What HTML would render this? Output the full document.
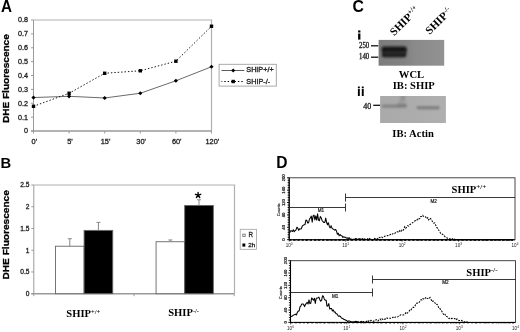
<!DOCTYPE html>
<html><head><meta charset="utf-8"><style>
html,body{margin:0;padding:0;background:#fff;width:520px;height:332px;overflow:hidden;}
svg{display:block;font-family:"Liberation Sans",sans-serif;filter:grayscale(1);}
</style></head><body>
<svg width="520" height="332" viewBox="0 0 520 332"><defs><filter id="bl" x="-20%" y="-50%" width="140%" height="200%"><feGaussianBlur stdDeviation="0.85"/></filter><filter id="bl2" x="-20%" y="-80%" width="140%" height="260%"><feGaussianBlur stdDeviation="1.1"/></filter><filter id="bl3" x="-50%" y="-50%" width="200%" height="200%"><feGaussianBlur stdDeviation="1.6"/></filter><linearGradient id="g1" x1="0" x2="1" y1="0" y2="0"><stop offset="0" stop-color="#7c7c7c"/><stop offset="0.4" stop-color="#828282"/><stop offset="0.55" stop-color="#8a8a8a"/><stop offset="1" stop-color="#929292"/></linearGradient><linearGradient id="g2" x1="0" x2="1" y1="0" y2="0"><stop offset="0" stop-color="#a9a9a9"/><stop offset="1" stop-color="#afafaf"/></linearGradient></defs>
<text x="1.1" y="12.0" font-family="Liberation Sans" font-size="15.6" font-weight="bold" font-style="normal" text-anchor="start" fill="#000" textLength="11.0" lengthAdjust="spacingAndGlyphs" >A</text>
<path d="M33.5,20.0H211.5V131.0" fill="none" stroke="#b0b0b0" stroke-width="1.2"/>
<path d="M33.5,20.0V131.0" fill="none" stroke="#9a9a9a" stroke-width="1"/>
<path d="M31.0,131.0H211.5" fill="none" stroke="#9a9a9a" stroke-width="1.4"/>
<line x1="31.0" y1="131.0" x2="33.5" y2="131.0" stroke="#9a9a9a" stroke-width="1"/>
<text x="28.0" y="133.4" font-family="Liberation Sans" font-size="7.2" font-weight="normal" font-style="normal" text-anchor="end" fill="#222"  stroke="#222" stroke-width="0.3">0</text>
<line x1="31.0" y1="117.125" x2="33.5" y2="117.125" stroke="#9a9a9a" stroke-width="1"/>
<text x="28.0" y="119.525" font-family="Liberation Sans" font-size="7.2" font-weight="normal" font-style="normal" text-anchor="end" fill="#222"  stroke="#222" stroke-width="0.3">0.1</text>
<line x1="31.0" y1="103.25" x2="33.5" y2="103.25" stroke="#9a9a9a" stroke-width="1"/>
<text x="28.0" y="105.65" font-family="Liberation Sans" font-size="7.2" font-weight="normal" font-style="normal" text-anchor="end" fill="#222"  stroke="#222" stroke-width="0.3">0.2</text>
<line x1="31.0" y1="89.375" x2="33.5" y2="89.375" stroke="#9a9a9a" stroke-width="1"/>
<text x="28.0" y="91.775" font-family="Liberation Sans" font-size="7.2" font-weight="normal" font-style="normal" text-anchor="end" fill="#222"  stroke="#222" stroke-width="0.3">0.3</text>
<line x1="31.0" y1="75.5" x2="33.5" y2="75.5" stroke="#9a9a9a" stroke-width="1"/>
<text x="28.0" y="77.9" font-family="Liberation Sans" font-size="7.2" font-weight="normal" font-style="normal" text-anchor="end" fill="#222"  stroke="#222" stroke-width="0.3">0.4</text>
<line x1="31.0" y1="61.625" x2="33.5" y2="61.625" stroke="#9a9a9a" stroke-width="1"/>
<text x="28.0" y="64.025" font-family="Liberation Sans" font-size="7.2" font-weight="normal" font-style="normal" text-anchor="end" fill="#222"  stroke="#222" stroke-width="0.3">0.5</text>
<line x1="31.0" y1="47.750000000000014" x2="33.5" y2="47.750000000000014" stroke="#9a9a9a" stroke-width="1"/>
<text x="28.0" y="50.15000000000001" font-family="Liberation Sans" font-size="7.2" font-weight="normal" font-style="normal" text-anchor="end" fill="#222"  stroke="#222" stroke-width="0.3">0.6</text>
<line x1="31.0" y1="33.875000000000014" x2="33.5" y2="33.875000000000014" stroke="#9a9a9a" stroke-width="1"/>
<text x="28.0" y="36.27500000000001" font-family="Liberation Sans" font-size="7.2" font-weight="normal" font-style="normal" text-anchor="end" fill="#222"  stroke="#222" stroke-width="0.3">0.7</text>
<line x1="31.0" y1="20.0" x2="33.5" y2="20.0" stroke="#9a9a9a" stroke-width="1"/>
<text x="28.0" y="22.4" font-family="Liberation Sans" font-size="7.2" font-weight="normal" font-style="normal" text-anchor="end" fill="#222"  stroke="#222" stroke-width="0.3">0.8</text>
<line x1="33.5" y1="131.0" x2="33.5" y2="133.5" stroke="#9a9a9a" stroke-width="1"/>
<text x="34.3" y="143.6" font-family="Liberation Sans" font-size="7.4" font-weight="normal" font-style="normal" text-anchor="middle" fill="#222"  stroke="#222" stroke-width="0.3">0'</text>
<line x1="69.1" y1="131.0" x2="69.1" y2="133.5" stroke="#9a9a9a" stroke-width="1"/>
<text x="69.89999999999999" y="143.6" font-family="Liberation Sans" font-size="7.4" font-weight="normal" font-style="normal" text-anchor="middle" fill="#222"  stroke="#222" stroke-width="0.3">5'</text>
<line x1="104.7" y1="131.0" x2="104.7" y2="133.5" stroke="#9a9a9a" stroke-width="1"/>
<text x="105.5" y="143.6" font-family="Liberation Sans" font-size="7.4" font-weight="normal" font-style="normal" text-anchor="middle" fill="#222"  stroke="#222" stroke-width="0.3">15'</text>
<line x1="140.3" y1="131.0" x2="140.3" y2="133.5" stroke="#9a9a9a" stroke-width="1"/>
<text x="141.10000000000002" y="143.6" font-family="Liberation Sans" font-size="7.4" font-weight="normal" font-style="normal" text-anchor="middle" fill="#222"  stroke="#222" stroke-width="0.3">30'</text>
<line x1="175.9" y1="131.0" x2="175.9" y2="133.5" stroke="#9a9a9a" stroke-width="1"/>
<text x="176.70000000000002" y="143.6" font-family="Liberation Sans" font-size="7.4" font-weight="normal" font-style="normal" text-anchor="middle" fill="#222"  stroke="#222" stroke-width="0.3">60'</text>
<line x1="211.5" y1="131.0" x2="211.5" y2="133.5" stroke="#9a9a9a" stroke-width="1"/>
<text x="212.3" y="143.6" font-family="Liberation Sans" font-size="7.4" font-weight="normal" font-style="normal" text-anchor="middle" fill="#222"  stroke="#222" stroke-width="0.3">120'</text>
<polyline points="33.50,97.56 69.10,96.31 104.70,97.98 140.30,93.26 175.90,80.77 211.50,66.76" fill="none" stroke="#444" stroke-width="0.8"/>
<polyline points="33.50,106.30 69.10,93.26 104.70,73.28 140.30,70.78 175.90,61.21 211.50,26.24" fill="none" stroke="#111" stroke-width="1" stroke-dasharray="1.4 2.0"/>
<path d="M33.5,95.46125L35.6,97.56125L33.5,99.66125L31.4,97.56125Z" fill="#000"/>
<path d="M69.1,94.2125L71.19999999999999,96.3125L69.1,98.4125L67.0,96.3125Z" fill="#000"/>
<path d="M104.7,95.8775L106.8,97.97749999999999L104.7,100.07749999999999L102.60000000000001,97.97749999999999Z" fill="#000"/>
<path d="M140.3,91.16L142.4,93.25999999999999L140.3,95.35999999999999L138.20000000000002,93.25999999999999Z" fill="#000"/>
<path d="M175.9,78.67250000000001L178.0,80.77250000000001L175.9,82.8725L173.8,80.77250000000001Z" fill="#000"/>
<path d="M211.5,64.65875000000001L213.6,66.75875L211.5,68.85875L209.4,66.75875Z" fill="#000"/>
<rect x="31.8" y="104.6025" width="3.4" height="3.4" fill="#000"/>
<rect x="67.39999999999999" y="91.55999999999999" width="3.4" height="3.4" fill="#000"/>
<rect x="103.0" y="71.58" width="3.4" height="3.4" fill="#000"/>
<rect x="138.60000000000002" y="69.0825" width="3.4" height="3.4" fill="#000"/>
<rect x="174.20000000000002" y="59.508750000000006" width="3.4" height="3.4" fill="#000"/>
<rect x="209.8" y="24.543750000000006" width="3.4" height="3.4" fill="#000"/>
<text x="0" y="0" font-family="Liberation Sans" font-size="9.6" font-weight="bold" font-style="normal" text-anchor="middle" fill="#000" textLength="88.9" lengthAdjust="spacingAndGlyphs" stroke="#000" stroke-width="0.3" transform="translate(9.0,78.65) rotate(-90)">DHE Fluorescence</text>
<rect x="219.1" y="64.3" width="57.2" height="21.8" fill="#fff" stroke="#a0a0a0" stroke-width="0.9"/>
<line x1="221.5" y1="70.5" x2="244.3" y2="70.5" stroke="#333" stroke-width="0.8"/>
<path d="M233.2,68.4L235.3,70.5L233.2,72.6L231.1,70.5Z" fill="#000"/>
<line x1="221.5" y1="81.5" x2="244.3" y2="81.5" stroke="#000" stroke-width="1" stroke-dasharray="1.4 2.0" stroke-dashoffset="0.6"/>
<rect x="231.5" y="79.8" width="3.4" height="3.4" fill="#000"/>
<text x="246.3" y="72.3" font-family="Liberation Sans" font-size="6.8" font-weight="normal" font-style="normal" text-anchor="start" fill="#222" textLength="27.4" lengthAdjust="spacingAndGlyphs"  stroke="#222" stroke-width="0.3">SHIP+/+</text>
<text x="246.3" y="83.5" font-family="Liberation Sans" font-size="6.8" font-weight="normal" font-style="normal" text-anchor="start" fill="#222" textLength="23.8" lengthAdjust="spacingAndGlyphs"  stroke="#222" stroke-width="0.3">SHIP-/-</text>
<text x="0.4" y="167.5" font-family="Liberation Sans" font-size="14.8" font-weight="bold" font-style="normal" text-anchor="start" fill="#000" >B</text>
<path d="M33.8,185.0H234.5V293.7" fill="none" stroke="#b0b0b0" stroke-width="1.2"/>
<path d="M33.8,185.0V293.7" fill="none" stroke="#9a9a9a" stroke-width="1"/>
<path d="M31.299999999999997,293.7H234.2" fill="none" stroke="#9a9a9a" stroke-width="1.4"/>
<line x1="31.299999999999997" y1="293.7" x2="33.8" y2="293.7" stroke="#9a9a9a" stroke-width="1"/>
<text x="29.4" y="296.0" font-family="Liberation Sans" font-size="6.6" font-weight="normal" font-style="normal" text-anchor="end" fill="#222"  stroke="#222" stroke-width="0.3">0</text>
<line x1="31.299999999999997" y1="271.96" x2="33.8" y2="271.96" stroke="#9a9a9a" stroke-width="1"/>
<text x="29.4" y="274.26" font-family="Liberation Sans" font-size="6.6" font-weight="normal" font-style="normal" text-anchor="end" fill="#222"  stroke="#222" stroke-width="0.3">0.5</text>
<line x1="31.299999999999997" y1="250.22" x2="33.8" y2="250.22" stroke="#9a9a9a" stroke-width="1"/>
<text x="29.4" y="252.52" font-family="Liberation Sans" font-size="6.6" font-weight="normal" font-style="normal" text-anchor="end" fill="#222"  stroke="#222" stroke-width="0.3">1</text>
<line x1="31.299999999999997" y1="228.48000000000002" x2="33.8" y2="228.48000000000002" stroke="#9a9a9a" stroke-width="1"/>
<text x="29.4" y="230.78000000000003" font-family="Liberation Sans" font-size="6.6" font-weight="normal" font-style="normal" text-anchor="end" fill="#222"  stroke="#222" stroke-width="0.3">1.5</text>
<line x1="31.299999999999997" y1="206.74" x2="33.8" y2="206.74" stroke="#9a9a9a" stroke-width="1"/>
<text x="29.4" y="209.04000000000002" font-family="Liberation Sans" font-size="6.6" font-weight="normal" font-style="normal" text-anchor="end" fill="#222"  stroke="#222" stroke-width="0.3">2</text>
<line x1="31.299999999999997" y1="185.0" x2="33.8" y2="185.0" stroke="#9a9a9a" stroke-width="1"/>
<text x="29.4" y="187.3" font-family="Liberation Sans" font-size="6.6" font-weight="normal" font-style="normal" text-anchor="end" fill="#222"  stroke="#222" stroke-width="0.3">2.5</text>
<line x1="33.8" y1="293.7" x2="33.8" y2="296.2" stroke="#9a9a9a" stroke-width="1"/>
<line x1="134.0" y1="293.7" x2="134.0" y2="296.2" stroke="#9a9a9a" stroke-width="1"/>
<line x1="234.2" y1="293.7" x2="234.2" y2="296.2" stroke="#9a9a9a" stroke-width="1"/>
<rect x="55.47" y="246.22" width="28.63" height="47.48" fill="#fff" stroke="#666" stroke-width="0.9"/>
<line x1="69.79" y1="246.22" x2="69.79" y2="238.74" stroke="#888" stroke-width="1"/>
<line x1="67.79" y1="238.74" x2="71.79" y2="238.74" stroke="#888" stroke-width="1"/>
<rect x="84.10" y="230.39" width="28.63" height="63.31" fill="#000" stroke="#666" stroke-width="0.9"/>
<line x1="98.41" y1="230.39" x2="98.41" y2="222.39" stroke="#888" stroke-width="1"/>
<line x1="96.41" y1="222.39" x2="100.41" y2="222.39" stroke="#888" stroke-width="1"/>
<rect x="156.07" y="241.74" width="28.63" height="51.96" fill="#fff" stroke="#666" stroke-width="0.9"/>
<line x1="170.39" y1="241.74" x2="170.39" y2="239.96" stroke="#888" stroke-width="1"/>
<line x1="168.39" y1="239.96" x2="172.39" y2="239.96" stroke="#888" stroke-width="1"/>
<rect x="184.70" y="205.44" width="28.63" height="88.26" fill="#000" stroke="#666" stroke-width="0.9"/>
<line x1="199.01" y1="205.44" x2="199.01" y2="199.78" stroke="#888" stroke-width="1"/>
<line x1="197.01" y1="199.78" x2="201.01" y2="199.78" stroke="#888" stroke-width="1"/>
<text x="0" y="0" font-family="Liberation Sans" font-size="9.4" font-weight="bold" font-style="normal" text-anchor="middle" fill="#000" textLength="89.3" lengthAdjust="spacingAndGlyphs" stroke="#000" stroke-width="0.3" transform="translate(8.7,234.85) rotate(-90)">DHE Fluorescence</text>
<path d="M198.1,195.2L198.10,192.40M198.1,195.2L200.76,194.33M198.1,195.2L199.75,197.47M198.1,195.2L196.45,197.47M198.1,195.2L195.44,194.33" stroke="#000" stroke-width="1.4" stroke-linecap="round" fill="none"/>
<rect x="240.2" y="229.3" width="16.3" height="20" fill="#fff" stroke="#a0a0a0" stroke-width="0.8"/>
<rect x="242.8" y="234.1" width="2.4" height="2.4" fill="#fff" stroke="#666" stroke-width="0.8"/>
<rect x="242.4" y="243.5" width="2.9" height="3.1" fill="#000"/>
<text x="248.4" y="237.1" font-family="Liberation Sans" font-size="6.8" font-weight="normal" font-style="normal" text-anchor="start" fill="#222" textLength="4.5" lengthAdjust="spacingAndGlyphs"  stroke="#222" stroke-width="0.3">R</text>
<text x="248.2" y="246.8" font-family="Liberation Sans" font-size="6.0" font-weight="normal" font-style="normal" text-anchor="start" fill="#222" textLength="7" lengthAdjust="spacingAndGlyphs"  stroke="#222" stroke-width="0.3">2h</text>
<text x="66.3" y="317.4" font-family="Liberation Serif" font-size="10.6" font-weight="bold" fill="#000">SHIP<tspan font-size="6.4" dy="-3.9">+/+</tspan></text>
<text x="168.2" y="316.4" font-family="Liberation Serif" font-size="10.6" font-weight="bold" fill="#000">SHIP<tspan font-size="6.4" dy="-3.9">-/-</tspan></text>
<text x="352.4" y="12.0" font-family="Liberation Sans" font-size="15.8" font-weight="bold" font-style="normal" text-anchor="start" fill="#000" >C</text>
<rect x="358.1" y="30.4" width="2.3" height="2.1" fill="#000"/><rect x="358.1" y="33.5" width="2.3" height="6.1" fill="#000"/>
<text font-family="Liberation Serif" font-size="11.2" font-weight="bold" fill="#000" transform="translate(394.3,36.2) rotate(-45)">SHIP<tspan font-size="7" dy="-4">+/+</tspan></text>
<text font-family="Liberation Serif" font-size="11.2" font-weight="bold" fill="#000" transform="translate(429.8,35.0) rotate(-45)">SHIP<tspan font-size="7" dy="-4">-/-</tspan></text>
<rect x="378.6" y="39.9" width="65.6" height="25.8" fill="url(#g1)"/>
<g filter="url(#bl)"><rect x="382" y="47.5" width="24.5" height="9" rx="3" fill="#2a2a2a"/><rect x="381.5" y="46.4" width="25.3" height="6.2" rx="2.8" fill="#141414"/><rect x="381.8" y="52.5" width="24.4" height="4.8" rx="2.4" fill="#1a1a1a"/><rect x="384" y="52.1" width="21" height="0.8" fill="#444"/></g>
<text x="369.2" y="47.7" font-family="Liberation Serif" font-size="7.2" font-weight="normal" font-style="normal" text-anchor="end" fill="#222" textLength="10.2" lengthAdjust="spacingAndGlyphs"  stroke="#222" stroke-width="0.3">250</text>
<line x1="371" y1="45.8" x2="378.3" y2="45.8" stroke="#111" stroke-width="1.3"/>
<text x="369.2" y="59.4" font-family="Liberation Serif" font-size="7.2" font-weight="normal" font-style="normal" text-anchor="end" fill="#222" textLength="10.2" lengthAdjust="spacingAndGlyphs"  stroke="#222" stroke-width="0.3">140</text>
<line x1="371" y1="57.2" x2="378.3" y2="57.2" stroke="#111" stroke-width="1.3"/>
<text x="411.5" y="77.5" font-family="Liberation Serif" font-size="10.6" font-weight="bold" font-style="normal" text-anchor="middle" fill="#000" >WCL</text>
<text x="413.8" y="89.1" font-family="Liberation Serif" font-size="10.6" font-weight="bold" font-style="normal" text-anchor="middle" fill="#000" >IB: SHIP</text>
<rect x="357.9" y="86.5" width="1.9" height="1.7" fill="#000"/><rect x="357.9" y="88.9" width="1.9" height="7.1" fill="#000"/><rect x="361.8" y="86.5" width="1.9" height="1.7" fill="#000"/><rect x="361.8" y="88.9" width="1.9" height="7.1" fill="#000"/>
<rect x="380.1" y="96" width="65.8" height="27" fill="url(#g2)"/>
<clipPath id="cb2"><rect x="380.1" y="96" width="65.8" height="27"/></clipPath>
<g clip-path="url(#cb2)"><g filter="url(#bl2)"><rect x="381.8" y="104.4" width="25.2" height="3.3" rx="1.6" fill="#848484"/><rect x="397" y="103.6" width="9.5" height="3.2" rx="1.5" fill="#7e7e7e"/><rect x="416.6" y="106.3" width="23" height="3" rx="1.4" fill="#7c7c7c"/></g><g filter="url(#bl3)"><ellipse cx="402.5" cy="97.5" rx="2.2" ry="2.5" fill="#8a8a8a"/><path d="M399,104 L405,99" stroke="#909090" stroke-width="2"/></g></g>
<text x="371.3" y="109.1" font-family="Liberation Serif" font-size="7.6" font-weight="normal" font-style="normal" text-anchor="end" fill="#222" textLength="8" lengthAdjust="spacingAndGlyphs"  stroke="#222" stroke-width="0.3">40</text>
<line x1="373.2" y1="105.3" x2="380.1" y2="105.3" stroke="#111" stroke-width="1.3"/>
<text x="413.1" y="137.3" font-family="Liberation Serif" font-size="10.6" font-weight="bold" font-style="normal" text-anchor="middle" fill="#000" >IB: Actin</text>
<text x="276.3" y="168.0" font-family="Liberation Sans" font-size="15.6" font-weight="bold" font-style="normal" text-anchor="start" fill="#000" >D</text>
<rect x="289.2" y="177.8" width="225.8" height="61.89999999999998" fill="none" stroke="#333" stroke-width="0.9"/><line x1="289.2" y1="177.8" x2="289.2" y2="239.7" stroke="#000" stroke-width="1.1"/><line x1="289.2" y1="239.7" x2="515" y2="239.7" stroke="#333" stroke-width="1.0"/><line x1="289.2" y1="240.0" x2="515" y2="240.0" stroke="#000" stroke-width="1.3" stroke-dasharray="2.3 1.8"/><line x1="287.0" y1="239.70" x2="289.2" y2="239.70" stroke="#000" stroke-width="0.9"/><line x1="287.59999999999997" y1="237.22" x2="289.2" y2="237.22" stroke="#000" stroke-width="0.9"/><line x1="287.59999999999997" y1="234.75" x2="289.2" y2="234.75" stroke="#000" stroke-width="0.9"/><line x1="287.59999999999997" y1="232.27" x2="289.2" y2="232.27" stroke="#000" stroke-width="0.9"/><line x1="287.59999999999997" y1="229.80" x2="289.2" y2="229.80" stroke="#000" stroke-width="0.9"/><line x1="287.0" y1="227.32" x2="289.2" y2="227.32" stroke="#000" stroke-width="0.9"/><line x1="287.59999999999997" y1="224.84" x2="289.2" y2="224.84" stroke="#000" stroke-width="0.9"/><line x1="287.59999999999997" y1="222.37" x2="289.2" y2="222.37" stroke="#000" stroke-width="0.9"/><line x1="287.59999999999997" y1="219.89" x2="289.2" y2="219.89" stroke="#000" stroke-width="0.9"/><line x1="287.59999999999997" y1="217.42" x2="289.2" y2="217.42" stroke="#000" stroke-width="0.9"/><line x1="287.0" y1="214.94" x2="289.2" y2="214.94" stroke="#000" stroke-width="0.9"/><line x1="287.59999999999997" y1="212.46" x2="289.2" y2="212.46" stroke="#000" stroke-width="0.9"/><line x1="287.59999999999997" y1="209.99" x2="289.2" y2="209.99" stroke="#000" stroke-width="0.9"/><line x1="287.59999999999997" y1="207.51" x2="289.2" y2="207.51" stroke="#000" stroke-width="0.9"/><line x1="287.59999999999997" y1="205.04" x2="289.2" y2="205.04" stroke="#000" stroke-width="0.9"/><line x1="287.0" y1="202.56" x2="289.2" y2="202.56" stroke="#000" stroke-width="0.9"/><line x1="287.59999999999997" y1="200.08" x2="289.2" y2="200.08" stroke="#000" stroke-width="0.9"/><line x1="287.59999999999997" y1="197.61" x2="289.2" y2="197.61" stroke="#000" stroke-width="0.9"/><line x1="287.59999999999997" y1="195.13" x2="289.2" y2="195.13" stroke="#000" stroke-width="0.9"/><line x1="287.59999999999997" y1="192.66" x2="289.2" y2="192.66" stroke="#000" stroke-width="0.9"/><line x1="287.0" y1="190.18" x2="289.2" y2="190.18" stroke="#000" stroke-width="0.9"/><line x1="287.59999999999997" y1="187.70" x2="289.2" y2="187.70" stroke="#000" stroke-width="0.9"/><line x1="287.59999999999997" y1="185.23" x2="289.2" y2="185.23" stroke="#000" stroke-width="0.9"/><line x1="287.59999999999997" y1="182.75" x2="289.2" y2="182.75" stroke="#000" stroke-width="0.9"/><line x1="287.59999999999997" y1="180.28" x2="289.2" y2="180.28" stroke="#000" stroke-width="0.9"/><line x1="287.0" y1="177.80" x2="289.2" y2="177.80" stroke="#000" stroke-width="0.9"/><line x1="289.20" y1="239.7" x2="289.20" y2="241.7" stroke="#000" stroke-width="0.6"/><line x1="306.19" y1="239.7" x2="306.19" y2="240.89999999999998" stroke="#000" stroke-width="0.6"/><line x1="316.13" y1="239.7" x2="316.13" y2="240.89999999999998" stroke="#000" stroke-width="0.6"/><line x1="323.19" y1="239.7" x2="323.19" y2="240.89999999999998" stroke="#000" stroke-width="0.6"/><line x1="328.66" y1="239.7" x2="328.66" y2="240.89999999999998" stroke="#000" stroke-width="0.6"/><line x1="333.13" y1="239.7" x2="333.13" y2="240.89999999999998" stroke="#000" stroke-width="0.6"/><line x1="336.91" y1="239.7" x2="336.91" y2="240.89999999999998" stroke="#000" stroke-width="0.6"/><line x1="340.18" y1="239.7" x2="340.18" y2="240.89999999999998" stroke="#000" stroke-width="0.6"/><line x1="343.07" y1="239.7" x2="343.07" y2="240.89999999999998" stroke="#000" stroke-width="0.6"/><line x1="345.65" y1="239.7" x2="345.65" y2="241.7" stroke="#000" stroke-width="0.6"/><line x1="362.64" y1="239.7" x2="362.64" y2="240.89999999999998" stroke="#000" stroke-width="0.6"/><line x1="372.58" y1="239.7" x2="372.58" y2="240.89999999999998" stroke="#000" stroke-width="0.6"/><line x1="379.64" y1="239.7" x2="379.64" y2="240.89999999999998" stroke="#000" stroke-width="0.6"/><line x1="385.11" y1="239.7" x2="385.11" y2="240.89999999999998" stroke="#000" stroke-width="0.6"/><line x1="389.58" y1="239.7" x2="389.58" y2="240.89999999999998" stroke="#000" stroke-width="0.6"/><line x1="393.36" y1="239.7" x2="393.36" y2="240.89999999999998" stroke="#000" stroke-width="0.6"/><line x1="396.63" y1="239.7" x2="396.63" y2="240.89999999999998" stroke="#000" stroke-width="0.6"/><line x1="399.52" y1="239.7" x2="399.52" y2="240.89999999999998" stroke="#000" stroke-width="0.6"/><line x1="402.10" y1="239.7" x2="402.10" y2="241.7" stroke="#000" stroke-width="0.6"/><line x1="419.09" y1="239.7" x2="419.09" y2="240.89999999999998" stroke="#000" stroke-width="0.6"/><line x1="429.03" y1="239.7" x2="429.03" y2="240.89999999999998" stroke="#000" stroke-width="0.6"/><line x1="436.09" y1="239.7" x2="436.09" y2="240.89999999999998" stroke="#000" stroke-width="0.6"/><line x1="441.56" y1="239.7" x2="441.56" y2="240.89999999999998" stroke="#000" stroke-width="0.6"/><line x1="446.03" y1="239.7" x2="446.03" y2="240.89999999999998" stroke="#000" stroke-width="0.6"/><line x1="449.81" y1="239.7" x2="449.81" y2="240.89999999999998" stroke="#000" stroke-width="0.6"/><line x1="453.08" y1="239.7" x2="453.08" y2="240.89999999999998" stroke="#000" stroke-width="0.6"/><line x1="455.97" y1="239.7" x2="455.97" y2="240.89999999999998" stroke="#000" stroke-width="0.6"/><line x1="458.55" y1="239.7" x2="458.55" y2="241.7" stroke="#000" stroke-width="0.6"/><line x1="475.54" y1="239.7" x2="475.54" y2="240.89999999999998" stroke="#000" stroke-width="0.6"/><line x1="485.48" y1="239.7" x2="485.48" y2="240.89999999999998" stroke="#000" stroke-width="0.6"/><line x1="492.54" y1="239.7" x2="492.54" y2="240.89999999999998" stroke="#000" stroke-width="0.6"/><line x1="498.01" y1="239.7" x2="498.01" y2="240.89999999999998" stroke="#000" stroke-width="0.6"/><line x1="502.48" y1="239.7" x2="502.48" y2="240.89999999999998" stroke="#000" stroke-width="0.6"/><line x1="506.26" y1="239.7" x2="506.26" y2="240.89999999999998" stroke="#000" stroke-width="0.6"/><line x1="509.53" y1="239.7" x2="509.53" y2="240.89999999999998" stroke="#000" stroke-width="0.6"/><line x1="512.42" y1="239.7" x2="512.42" y2="240.89999999999998" stroke="#000" stroke-width="0.6"/><text font-family="Liberation Sans" font-size="4.2" fill="#222" stroke="#222" stroke-width="0.2" text-anchor="middle" transform="translate(285.4,239.70) rotate(-90)">0</text><text font-family="Liberation Sans" font-size="4.2" fill="#222" stroke="#222" stroke-width="0.2" text-anchor="middle" transform="translate(285.4,227.32) rotate(-90)">40</text><text font-family="Liberation Sans" font-size="4.2" fill="#222" stroke="#222" stroke-width="0.2" text-anchor="middle" transform="translate(285.4,214.94) rotate(-90)">80</text><text font-family="Liberation Sans" font-size="4.2" fill="#222" stroke="#222" stroke-width="0.2" text-anchor="middle" transform="translate(285.4,202.56) rotate(-90)">120</text><text font-family="Liberation Sans" font-size="4.2" fill="#222" stroke="#222" stroke-width="0.2" text-anchor="middle" transform="translate(285.4,190.18) rotate(-90)">160</text><text font-family="Liberation Sans" font-size="4.2" fill="#222" stroke="#222" stroke-width="0.2" text-anchor="middle" transform="translate(285.4,177.80) rotate(-90)">200</text><text font-family="Liberation Sans" font-size="4.4" fill="#222" text-anchor="middle" stroke="#222" stroke-width="0.15" transform="translate(280.2,209.85) rotate(-90)" textLength="13" lengthAdjust="spacingAndGlyphs">Counts</text><text font-family="Liberation Sans" font-size="4.6" fill="#222" text-anchor="middle" x="289.20" y="246.89999999999998">10<tspan font-size="3.2" dy="-1.8">0</tspan></text><text font-family="Liberation Sans" font-size="4.6" fill="#222" text-anchor="middle" x="345.65" y="246.89999999999998">10<tspan font-size="3.2" dy="-1.8">1</tspan></text><text font-family="Liberation Sans" font-size="4.6" fill="#222" text-anchor="middle" x="402.10" y="246.89999999999998">10<tspan font-size="3.2" dy="-1.8">2</tspan></text><text font-family="Liberation Sans" font-size="4.6" fill="#222" text-anchor="middle" x="458.55" y="246.89999999999998">10<tspan font-size="3.2" dy="-1.8">3</tspan></text><text font-family="Liberation Sans" font-size="4.6" fill="#222" text-anchor="middle" x="515.00" y="246.89999999999998">10<tspan font-size="3.2" dy="-1.8">4</tspan></text><line x1="289.2" y1="207.5" x2="345.5" y2="207.5" stroke="#222" stroke-width="0.9"/><line x1="345.5" y1="203.5" x2="345.5" y2="211.5" stroke="#222" stroke-width="0.9"/><line x1="345.5" y1="193.5" x2="345.5" y2="201.5" stroke="#222" stroke-width="0.9"/><line x1="345.5" y1="197.5" x2="515" y2="197.5" stroke="#222" stroke-width="0.9"/><text font-family="Liberation Sans" font-size="4.6" fill="#222" stroke="#222" stroke-width="0.2" text-anchor="middle" x="321" y="212.3">M1</text><text font-family="Liberation Sans" font-size="4.6" fill="#222" stroke="#222" stroke-width="0.2" text-anchor="middle" x="433.7" y="202.8">M2</text><polyline points="289.7,232.9 290.6,230.7 291.5,230.8 292.4,231.5 293.3,229.7 294.2,231.7 295.1,230.7 296.0,229.8 296.9,227.2 297.8,228.2 298.7,230.3 299.6,228.7 300.5,229.0 301.4,228.7 302.3,226.0 303.2,225.4 304.1,224.8 305.0,224.6 305.9,220.0 306.8,220.4 307.7,223.0 308.6,222.7 309.5,219.0 310.4,217.9 311.3,216.1 312.2,222.1 313.1,215.9 314.0,215.1 314.9,219.9 315.8,215.9 316.7,220.1 317.6,213.8 318.5,220.1 319.4,220.7 320.3,216.5 321.2,217.9 322.1,220.5 323.0,221.7 323.9,222.5 324.8,222.5 325.7,218.1 326.6,222.3 327.5,224.7 328.4,222.7 329.3,226.4 330.2,227.9 331.1,225.8 332.0,228.1 332.9,228.9 333.8,229.3 334.7,230.1 335.6,229.5 336.5,231.1 337.4,234.3 338.3,233.2 339.2,235.7 340.1,234.5 341.0,235.6 341.9,235.8 342.8,237.4 343.7,236.7 344.6,237.2 345.5,237.3 346.4,238.1 347.3,237.8 348.2,238.7 349.1,237.7 350.0,238.8 350.9,238.9 351.8,239.2 352.7,239.5 353.6,239.2 354.5,239.6 355.4,238.5 356.3,238.8 357.2,239.1 358.1,239.7 359.0,238.7 359.9,238.7 360.8,239.3 361.7,239.1 362.6,238.8 363.5,239.5 364.4,239.0 365.3,239.3 366.2,239.7 367.1,239.7 368.0,239.7 368.9,239.7 369.8,239.7 370.7,239.7 371.6,239.7 372.5,239.7 373.4,239.7 374.3,239.7 375.2,239.7 376.1,239.7 377.0,239.7 377.9,239.7 378.8,239.7 379.7,239.7 380.6,239.7 381.5,239.7 382.4,239.7 383.3,239.7 384.2,239.7 385.1,239.7 386.0,239.7 386.9,239.7 387.8,239.7 388.7,239.7 389.6,239.7 390.5,239.7 391.4,239.7 392.3,239.7 393.2,239.7 394.1,239.7 395.0,239.7 395.9,239.7 396.8,239.7 397.7,239.7 398.6,239.7 399.5,239.7 400.4,239.7 401.3,239.7 402.2,239.7 403.1,239.7 404.0,239.7 404.9,239.7 405.8,239.7 406.7,239.7 407.6,239.7 408.5,239.7 409.4,239.7 410.3,239.7 411.2,239.7 412.1,239.7 413.0,239.7 413.9,239.7 414.8,239.7 415.7,239.7 416.6,239.7 417.5,239.7 418.4,239.7 419.3,239.7 420.2,239.7 421.1,239.7 422.0,239.7 422.9,239.7 423.8,239.7 424.7,239.7 425.6,239.7 426.5,239.7 427.4,239.7 428.3,239.7 429.2,239.7 430.1,239.7 431.0,239.7 431.9,239.7 432.8,239.7 433.7,239.7 434.6,239.7 435.5,239.7 436.4,239.7 437.3,239.7 438.2,239.7 439.1,239.7 440.0,239.7 440.9,239.7 441.8,239.7 442.7,239.7 443.6,239.7 444.5,239.7 445.4,239.7 446.3,239.7 447.2,239.7 448.1,239.7 449.0,239.7 449.9,239.7 450.8,239.7 451.7,239.7 452.6,239.7 453.5,239.7 454.4,239.7 455.3,239.7 456.2,239.7 457.1,239.7 458.0,239.7 458.9,239.7 459.8,239.7 460.7,239.7 461.6,239.7 462.5,239.7 463.4,239.7 464.3,239.7 465.2,239.7 466.1,239.7 467.0,239.7 467.9,239.7 468.8,239.7 469.7,239.7 470.6,239.7 471.5,239.7 472.4,239.7 473.3,239.7 474.2,239.7 475.1,239.7 476.0,239.7 476.9,239.7 477.8,239.7 478.7,239.7 479.6,239.7 480.5,239.7 481.4,239.7 482.3,239.7 483.2,239.7 484.1,239.7 485.0,239.7 485.9,239.7 486.8,239.7 487.7,239.7 488.6,239.7 489.5,239.7 490.4,239.7 491.3,239.7 492.2,239.7 493.1,239.7 494.0,239.7 494.9,239.7 495.8,239.7 496.7,239.7 497.6,239.7 498.5,239.7 499.4,239.7 500.3,239.7 501.2,239.7 502.1,239.7 503.0,239.7 503.9,239.7 504.8,239.7 505.7,239.7 506.6,239.7 507.5,239.7 508.4,239.7 509.3,239.7 510.2,239.7 511.1,239.7 512.0,239.7 512.9,239.7 513.8,239.7" fill="none" stroke="#000" stroke-width="1.05" stroke-linejoin="round"/><polyline points="289.7,239.7 290.7,239.7 291.7,239.7 292.7,239.7 293.7,239.7 294.7,239.7 295.7,239.7 296.7,239.7 297.7,239.7 298.7,239.7 299.7,239.7 300.7,239.7 301.7,239.7 302.7,239.7 303.7,239.7 304.7,239.7 305.7,239.7 306.7,239.7 307.7,239.7 308.7,239.7 309.7,239.7 310.7,239.7 311.7,239.7 312.7,239.7 313.7,239.7 314.7,239.7 315.7,239.7 316.7,239.7 317.7,239.7 318.7,239.7 319.7,239.7 320.7,239.7 321.7,239.7 322.7,239.7 323.7,239.7 324.7,239.7 325.7,239.7 326.7,239.7 327.7,239.7 328.7,239.7 329.7,239.7 330.7,239.7 331.7,239.7 332.7,239.7 333.7,239.7 334.7,239.7 335.7,239.7 336.7,239.7 337.7,239.7 338.7,239.7 339.7,239.7 340.7,239.7 341.7,239.7 342.7,239.7 343.7,239.7 344.7,239.7 345.7,239.7 346.7,239.7 347.7,239.7 348.7,239.7 349.7,239.7 350.7,239.7 351.7,239.7 352.7,239.7 353.7,239.7 354.7,239.7 355.7,239.4 356.7,239.7 357.7,239.7 358.7,239.2 359.7,239.5 360.7,239.4 361.7,239.7 362.7,239.0 363.7,239.1 364.7,239.3 365.7,239.7 366.7,239.7 367.7,238.8 368.7,239.7 369.7,238.5 370.7,239.3 371.7,239.5 372.7,239.6 373.7,239.6 374.7,238.3 375.7,238.7 376.7,238.4 377.7,238.9 378.7,237.3 379.7,237.5 380.7,237.9 381.7,237.1 382.7,237.6 383.7,236.8 384.7,236.3 385.7,235.8 386.7,235.8 387.7,235.7 388.7,234.8 389.7,234.9 390.7,234.4 391.7,234.8 392.7,233.7 393.7,233.9 394.7,233.7 395.7,232.1 396.7,231.8 397.7,231.8 398.7,232.4 399.7,230.6 400.7,231.9 401.7,230.3 402.7,230.8 403.7,229.4 404.7,226.9 405.7,228.4 406.7,226.9 407.7,225.6 408.7,226.1 409.7,224.8 410.7,224.0 411.7,223.3 412.7,222.6 413.7,221.9 414.7,221.0 415.7,220.6 416.7,220.8 417.7,218.5 418.7,218.9 419.7,218.5 420.7,216.6 421.7,216.5 422.7,215.3 423.7,216.8 424.7,216.8 425.7,217.0 426.7,218.7 427.7,217.6 428.7,219.8 429.7,218.1 430.7,218.6 431.7,220.2 432.7,222.2 433.7,223.2 434.7,222.9 435.7,225.2 436.7,227.4 437.7,228.3 438.7,230.3 439.7,231.2 440.7,233.7 441.7,233.9 442.7,234.3 443.7,235.4 444.7,236.4 445.7,237.4 446.7,237.8 447.7,238.2 448.7,238.8 449.7,238.8 450.7,238.9 451.7,238.4 452.7,239.0 453.7,239.5 454.7,239.0 455.7,239.6 456.7,239.1 457.7,239.6 458.7,239.7 459.7,239.7 460.7,239.7 461.7,239.7 462.7,239.7 463.7,239.7 464.7,239.7 465.7,239.7 466.7,239.7 467.7,239.7 468.7,239.7 469.7,239.7 470.7,239.7 471.7,239.7 472.7,239.7 473.7,239.7 474.7,239.7 475.7,239.7 476.7,239.7 477.7,239.7 478.7,239.7 479.7,239.7 480.7,239.7 481.7,239.7 482.7,239.7 483.7,239.7 484.7,239.7 485.7,239.7 486.7,239.7 487.7,239.7 488.7,239.7 489.7,239.7 490.7,239.7 491.7,239.7 492.7,239.7 493.7,239.7 494.7,239.7 495.7,239.7 496.7,239.7 497.7,239.7 498.7,239.7 499.7,239.7 500.7,239.7 501.7,239.7 502.7,239.7 503.7,239.7 504.7,239.7 505.7,239.7 506.7,239.7 507.7,239.7 508.7,239.7 509.7,239.7 510.7,239.7 511.7,239.7 512.7,239.7 513.7,239.7" fill="none" stroke="#000" stroke-width="1.05" stroke-dasharray="1.8 1.2"/><text font-family="Liberation Serif" font-size="10.6" font-weight="bold" fill="#000" x="451.5" y="192.7">SHIP<tspan font-size="7" dy="-4">+/+</tspan></text>
<rect x="290.5" y="260.7" width="225.0" height="61.69999999999999" fill="none" stroke="#333" stroke-width="0.9"/><line x1="290.5" y1="260.7" x2="290.5" y2="322.4" stroke="#000" stroke-width="1.1"/><line x1="290.5" y1="322.4" x2="515.5" y2="322.4" stroke="#333" stroke-width="1.0"/><line x1="290.5" y1="322.7" x2="515.5" y2="322.7" stroke="#000" stroke-width="1.3" stroke-dasharray="2.3 1.8"/><line x1="288.3" y1="322.40" x2="290.5" y2="322.40" stroke="#000" stroke-width="0.9"/><line x1="288.9" y1="319.93" x2="290.5" y2="319.93" stroke="#000" stroke-width="0.9"/><line x1="288.9" y1="317.46" x2="290.5" y2="317.46" stroke="#000" stroke-width="0.9"/><line x1="288.9" y1="315.00" x2="290.5" y2="315.00" stroke="#000" stroke-width="0.9"/><line x1="288.9" y1="312.53" x2="290.5" y2="312.53" stroke="#000" stroke-width="0.9"/><line x1="288.3" y1="310.06" x2="290.5" y2="310.06" stroke="#000" stroke-width="0.9"/><line x1="288.9" y1="307.59" x2="290.5" y2="307.59" stroke="#000" stroke-width="0.9"/><line x1="288.9" y1="305.12" x2="290.5" y2="305.12" stroke="#000" stroke-width="0.9"/><line x1="288.9" y1="302.66" x2="290.5" y2="302.66" stroke="#000" stroke-width="0.9"/><line x1="288.9" y1="300.19" x2="290.5" y2="300.19" stroke="#000" stroke-width="0.9"/><line x1="288.3" y1="297.72" x2="290.5" y2="297.72" stroke="#000" stroke-width="0.9"/><line x1="288.9" y1="295.25" x2="290.5" y2="295.25" stroke="#000" stroke-width="0.9"/><line x1="288.9" y1="292.78" x2="290.5" y2="292.78" stroke="#000" stroke-width="0.9"/><line x1="288.9" y1="290.32" x2="290.5" y2="290.32" stroke="#000" stroke-width="0.9"/><line x1="288.9" y1="287.85" x2="290.5" y2="287.85" stroke="#000" stroke-width="0.9"/><line x1="288.3" y1="285.38" x2="290.5" y2="285.38" stroke="#000" stroke-width="0.9"/><line x1="288.9" y1="282.91" x2="290.5" y2="282.91" stroke="#000" stroke-width="0.9"/><line x1="288.9" y1="280.44" x2="290.5" y2="280.44" stroke="#000" stroke-width="0.9"/><line x1="288.9" y1="277.98" x2="290.5" y2="277.98" stroke="#000" stroke-width="0.9"/><line x1="288.9" y1="275.51" x2="290.5" y2="275.51" stroke="#000" stroke-width="0.9"/><line x1="288.3" y1="273.04" x2="290.5" y2="273.04" stroke="#000" stroke-width="0.9"/><line x1="288.9" y1="270.57" x2="290.5" y2="270.57" stroke="#000" stroke-width="0.9"/><line x1="288.9" y1="268.10" x2="290.5" y2="268.10" stroke="#000" stroke-width="0.9"/><line x1="288.9" y1="265.64" x2="290.5" y2="265.64" stroke="#000" stroke-width="0.9"/><line x1="288.9" y1="263.17" x2="290.5" y2="263.17" stroke="#000" stroke-width="0.9"/><line x1="288.3" y1="260.70" x2="290.5" y2="260.70" stroke="#000" stroke-width="0.9"/><line x1="290.50" y1="322.4" x2="290.50" y2="324.4" stroke="#000" stroke-width="0.6"/><line x1="307.43" y1="322.4" x2="307.43" y2="323.59999999999997" stroke="#000" stroke-width="0.6"/><line x1="317.34" y1="322.4" x2="317.34" y2="323.59999999999997" stroke="#000" stroke-width="0.6"/><line x1="324.37" y1="322.4" x2="324.37" y2="323.59999999999997" stroke="#000" stroke-width="0.6"/><line x1="329.82" y1="322.4" x2="329.82" y2="323.59999999999997" stroke="#000" stroke-width="0.6"/><line x1="334.27" y1="322.4" x2="334.27" y2="323.59999999999997" stroke="#000" stroke-width="0.6"/><line x1="338.04" y1="322.4" x2="338.04" y2="323.59999999999997" stroke="#000" stroke-width="0.6"/><line x1="341.30" y1="322.4" x2="341.30" y2="323.59999999999997" stroke="#000" stroke-width="0.6"/><line x1="344.18" y1="322.4" x2="344.18" y2="323.59999999999997" stroke="#000" stroke-width="0.6"/><line x1="346.75" y1="322.4" x2="346.75" y2="324.4" stroke="#000" stroke-width="0.6"/><line x1="363.68" y1="322.4" x2="363.68" y2="323.59999999999997" stroke="#000" stroke-width="0.6"/><line x1="373.59" y1="322.4" x2="373.59" y2="323.59999999999997" stroke="#000" stroke-width="0.6"/><line x1="380.62" y1="322.4" x2="380.62" y2="323.59999999999997" stroke="#000" stroke-width="0.6"/><line x1="386.07" y1="322.4" x2="386.07" y2="323.59999999999997" stroke="#000" stroke-width="0.6"/><line x1="390.52" y1="322.4" x2="390.52" y2="323.59999999999997" stroke="#000" stroke-width="0.6"/><line x1="394.29" y1="322.4" x2="394.29" y2="323.59999999999997" stroke="#000" stroke-width="0.6"/><line x1="397.55" y1="322.4" x2="397.55" y2="323.59999999999997" stroke="#000" stroke-width="0.6"/><line x1="400.43" y1="322.4" x2="400.43" y2="323.59999999999997" stroke="#000" stroke-width="0.6"/><line x1="403.00" y1="322.4" x2="403.00" y2="324.4" stroke="#000" stroke-width="0.6"/><line x1="419.93" y1="322.4" x2="419.93" y2="323.59999999999997" stroke="#000" stroke-width="0.6"/><line x1="429.84" y1="322.4" x2="429.84" y2="323.59999999999997" stroke="#000" stroke-width="0.6"/><line x1="436.87" y1="322.4" x2="436.87" y2="323.59999999999997" stroke="#000" stroke-width="0.6"/><line x1="442.32" y1="322.4" x2="442.32" y2="323.59999999999997" stroke="#000" stroke-width="0.6"/><line x1="446.77" y1="322.4" x2="446.77" y2="323.59999999999997" stroke="#000" stroke-width="0.6"/><line x1="450.54" y1="322.4" x2="450.54" y2="323.59999999999997" stroke="#000" stroke-width="0.6"/><line x1="453.80" y1="322.4" x2="453.80" y2="323.59999999999997" stroke="#000" stroke-width="0.6"/><line x1="456.68" y1="322.4" x2="456.68" y2="323.59999999999997" stroke="#000" stroke-width="0.6"/><line x1="459.25" y1="322.4" x2="459.25" y2="324.4" stroke="#000" stroke-width="0.6"/><line x1="476.18" y1="322.4" x2="476.18" y2="323.59999999999997" stroke="#000" stroke-width="0.6"/><line x1="486.09" y1="322.4" x2="486.09" y2="323.59999999999997" stroke="#000" stroke-width="0.6"/><line x1="493.12" y1="322.4" x2="493.12" y2="323.59999999999997" stroke="#000" stroke-width="0.6"/><line x1="498.57" y1="322.4" x2="498.57" y2="323.59999999999997" stroke="#000" stroke-width="0.6"/><line x1="503.02" y1="322.4" x2="503.02" y2="323.59999999999997" stroke="#000" stroke-width="0.6"/><line x1="506.79" y1="322.4" x2="506.79" y2="323.59999999999997" stroke="#000" stroke-width="0.6"/><line x1="510.05" y1="322.4" x2="510.05" y2="323.59999999999997" stroke="#000" stroke-width="0.6"/><line x1="512.93" y1="322.4" x2="512.93" y2="323.59999999999997" stroke="#000" stroke-width="0.6"/><text font-family="Liberation Sans" font-size="4.2" fill="#222" stroke="#222" stroke-width="0.2" text-anchor="middle" transform="translate(286.7,322.40) rotate(-90)">0</text><text font-family="Liberation Sans" font-size="4.2" fill="#222" stroke="#222" stroke-width="0.2" text-anchor="middle" transform="translate(286.7,310.06) rotate(-90)">40</text><text font-family="Liberation Sans" font-size="4.2" fill="#222" stroke="#222" stroke-width="0.2" text-anchor="middle" transform="translate(286.7,297.72) rotate(-90)">80</text><text font-family="Liberation Sans" font-size="4.2" fill="#222" stroke="#222" stroke-width="0.2" text-anchor="middle" transform="translate(286.7,285.38) rotate(-90)">120</text><text font-family="Liberation Sans" font-size="4.2" fill="#222" stroke="#222" stroke-width="0.2" text-anchor="middle" transform="translate(286.7,273.04) rotate(-90)">160</text><text font-family="Liberation Sans" font-size="4.2" fill="#222" stroke="#222" stroke-width="0.2" text-anchor="middle" transform="translate(286.7,260.70) rotate(-90)">200</text><text font-family="Liberation Sans" font-size="4.4" fill="#222" text-anchor="middle" stroke="#222" stroke-width="0.15" transform="translate(281.5,292.65) rotate(-90)" textLength="13" lengthAdjust="spacingAndGlyphs">Counts</text><text font-family="Liberation Sans" font-size="4.6" fill="#222" text-anchor="middle" x="290.50" y="329.59999999999997">10<tspan font-size="3.2" dy="-1.8">0</tspan></text><text font-family="Liberation Sans" font-size="4.6" fill="#222" text-anchor="middle" x="346.75" y="329.59999999999997">10<tspan font-size="3.2" dy="-1.8">1</tspan></text><text font-family="Liberation Sans" font-size="4.6" fill="#222" text-anchor="middle" x="403.00" y="329.59999999999997">10<tspan font-size="3.2" dy="-1.8">2</tspan></text><text font-family="Liberation Sans" font-size="4.6" fill="#222" text-anchor="middle" x="459.25" y="329.59999999999997">10<tspan font-size="3.2" dy="-1.8">3</tspan></text><text font-family="Liberation Sans" font-size="4.6" fill="#222" text-anchor="middle" x="515.50" y="329.59999999999997">10<tspan font-size="3.2" dy="-1.8">4</tspan></text><line x1="290.5" y1="292.5" x2="372.5" y2="292.5" stroke="#222" stroke-width="0.9"/><line x1="372.5" y1="288.5" x2="372.5" y2="296.5" stroke="#222" stroke-width="0.9"/><line x1="372.5" y1="275.5" x2="372.5" y2="283.5" stroke="#222" stroke-width="0.9"/><line x1="372.5" y1="279.5" x2="515.5" y2="279.5" stroke="#222" stroke-width="0.9"/><text font-family="Liberation Sans" font-size="4.6" fill="#222" stroke="#222" stroke-width="0.2" text-anchor="middle" x="335.2" y="298.3">M1</text><text font-family="Liberation Sans" font-size="4.6" fill="#222" stroke="#222" stroke-width="0.2" text-anchor="middle" x="445.5" y="284.3">M2</text><polyline points="291.0,316.2 291.9,316.5 292.8,315.5 293.7,315.1 294.6,314.6 295.5,314.2 296.4,315.0 297.3,312.5 298.2,311.1 299.1,311.0 300.0,306.8 300.9,305.8 301.8,303.9 302.7,303.9 303.6,304.3 304.5,306.6 305.4,304.7 306.3,303.4 307.2,302.4 308.1,304.0 309.0,299.9 309.9,303.6 310.8,303.2 311.7,297.9 312.6,299.1 313.5,300.2 314.4,298.2 315.3,303.4 316.2,298.5 317.1,298.0 318.0,298.0 318.9,297.1 319.8,299.7 320.7,301.1 321.6,300.4 322.5,295.8 323.4,296.3 324.3,299.2 325.2,300.2 326.1,300.2 327.0,306.2 327.9,305.8 328.8,303.6 329.7,309.0 330.6,308.5 331.5,308.4 332.4,311.0 333.3,309.9 334.2,312.1 335.1,311.9 336.0,313.7 336.9,313.7 337.8,315.3 338.7,316.3 339.6,315.9 340.5,316.4 341.4,317.9 342.3,318.3 343.2,318.8 344.1,319.6 345.0,319.7 345.9,320.3 346.8,320.6 347.7,321.6 348.6,320.9 349.5,321.0 350.4,321.4 351.3,321.8 352.2,322.4 353.1,321.8 354.0,321.7 354.9,321.8 355.8,321.3 356.7,321.4 357.6,322.0 358.5,321.7 359.4,322.4 360.3,322.4 361.2,321.4 362.1,322.4 363.0,321.7 363.9,322.2 364.8,322.4 365.7,322.4 366.6,321.8 367.5,322.4 368.4,322.4 369.3,322.4 370.2,322.4 371.1,322.4 372.0,322.4 372.9,322.4 373.8,322.4 374.7,322.4 375.6,322.4 376.5,322.4 377.4,322.4 378.3,322.4 379.2,322.4 380.1,322.4 381.0,322.4 381.9,322.4 382.8,322.4 383.7,322.4 384.6,322.4 385.5,322.4 386.4,322.4 387.3,322.4 388.2,322.4 389.1,322.4 390.0,322.4 390.9,322.4 391.8,322.4 392.7,322.4 393.6,322.4 394.5,322.4 395.4,322.4 396.3,322.4 397.2,322.4 398.1,322.4 399.0,322.4 399.9,322.4 400.8,322.4 401.7,322.4 402.6,322.4 403.5,322.4 404.4,322.4 405.3,322.4 406.2,322.4 407.1,322.4 408.0,322.4 408.9,322.4 409.8,322.4 410.7,322.4 411.6,322.4 412.5,322.4 413.4,322.4 414.3,322.4 415.2,322.4 416.1,322.4 417.0,322.4 417.9,322.4 418.8,322.4 419.7,322.4 420.6,322.4 421.5,322.4 422.4,322.4 423.3,322.4 424.2,322.4 425.1,322.4 426.0,322.4 426.9,322.4 427.8,322.4 428.7,322.4 429.6,322.4 430.5,322.4 431.4,322.4 432.3,322.4 433.2,322.4 434.1,322.4 435.0,322.4 435.9,322.4 436.8,322.4 437.7,322.4 438.6,322.4 439.5,322.4 440.4,322.4 441.3,322.4 442.2,322.4 443.1,322.4 444.0,322.4 444.9,322.4 445.8,322.4 446.7,322.4 447.6,322.4 448.5,322.4 449.4,322.4 450.3,322.4 451.2,322.4 452.1,322.4 453.0,322.4 453.9,322.4 454.8,322.4 455.7,322.4 456.6,322.4 457.5,322.4 458.4,322.4 459.3,322.4 460.2,322.4 461.1,322.4 462.0,322.4 462.9,322.4 463.8,322.4 464.7,322.4 465.6,322.4 466.5,322.4 467.4,322.4 468.3,322.4 469.2,322.4 470.1,322.4 471.0,322.4 471.9,322.4 472.8,322.4 473.7,322.4 474.6,322.4 475.5,322.4 476.4,322.4 477.3,322.4 478.2,322.4 479.1,322.4 480.0,322.4 480.9,322.4 481.8,322.4 482.7,322.4 483.6,322.4 484.5,322.4 485.4,322.4 486.3,322.4 487.2,322.4 488.1,322.4 489.0,322.4 489.9,322.4 490.8,322.4 491.7,322.4 492.6,322.4 493.5,322.4 494.4,322.4 495.3,322.4 496.2,322.4 497.1,322.4 498.0,322.4 498.9,322.4 499.8,322.4 500.7,322.4 501.6,322.4 502.5,322.4 503.4,322.4 504.3,322.4 505.2,322.4 506.1,322.4 507.0,322.4 507.9,322.4 508.8,322.4 509.7,322.4 510.6,322.4 511.5,322.4 512.4,322.4 513.3,322.4 514.2,322.4" fill="none" stroke="#000" stroke-width="1.05" stroke-linejoin="round"/><polyline points="291.0,322.4 292.0,322.4 293.0,322.4 294.0,322.4 295.0,322.4 296.0,322.4 297.0,322.4 298.0,322.4 299.0,322.4 300.0,322.4 301.0,322.4 302.0,322.4 303.0,322.4 304.0,322.4 305.0,322.4 306.0,322.4 307.0,322.4 308.0,322.4 309.0,322.4 310.0,322.4 311.0,322.4 312.0,322.4 313.0,322.4 314.0,322.4 315.0,322.4 316.0,322.4 317.0,322.4 318.0,322.4 319.0,322.4 320.0,322.4 321.0,322.4 322.0,322.4 323.0,322.4 324.0,322.4 325.0,322.4 326.0,322.4 327.0,322.4 328.0,322.4 329.0,322.4 330.0,322.4 331.0,322.4 332.0,322.4 333.0,322.4 334.0,322.4 335.0,322.4 336.0,322.4 337.0,322.4 338.0,322.4 339.0,322.4 340.0,322.4 341.0,322.4 342.0,322.4 343.0,322.4 344.0,322.4 345.0,322.4 346.0,322.4 347.0,322.4 348.0,322.4 349.0,322.4 350.0,322.4 351.0,322.4 352.0,322.4 353.0,322.4 354.0,322.4 355.0,322.4 356.0,322.4 357.0,322.4 358.0,322.4 359.0,322.4 360.0,322.4 361.0,321.8 362.0,321.5 363.0,322.0 364.0,321.8 365.0,321.8 366.0,321.5 367.0,321.2 368.0,322.1 369.0,320.7 370.0,321.3 371.0,320.4 372.0,320.6 373.0,321.3 374.0,321.0 375.0,320.8 376.0,319.7 377.0,319.7 378.0,320.9 379.0,319.5 380.0,319.0 381.0,320.0 382.0,318.8 383.0,319.6 384.0,319.9 385.0,318.9 386.0,319.3 387.0,318.0 388.0,318.5 389.0,318.4 390.0,318.2 391.0,318.3 392.0,318.0 393.0,317.2 394.0,318.0 395.0,317.2 396.0,317.0 397.0,317.3 398.0,316.6 399.0,315.6 400.0,315.3 401.0,314.7 402.0,314.9 403.0,314.9 404.0,314.7 405.0,314.1 406.0,312.3 407.0,313.3 408.0,312.4 409.0,311.4 410.0,309.7 411.0,310.0 412.0,308.3 413.0,307.2 414.0,307.4 415.0,305.9 416.0,303.7 417.0,303.1 418.0,303.3 419.0,302.3 420.0,301.3 421.0,299.6 422.0,300.0 423.0,298.5 424.0,299.5 425.0,298.5 426.0,297.3 427.0,298.2 428.0,298.4 429.0,298.8 430.0,297.5 431.0,299.2 432.0,301.7 433.0,301.1 434.0,301.4 435.0,303.0 436.0,304.6 437.0,304.3 438.0,305.7 439.0,308.6 440.0,308.6 441.0,310.2 442.0,311.5 443.0,313.4 444.0,315.1 445.0,314.3 446.0,316.4 447.0,316.5 448.0,317.7 449.0,318.6 450.0,318.0 451.0,318.6 452.0,318.4 453.0,318.7 454.0,318.5 455.0,318.8 456.0,320.0 457.0,318.9 458.0,320.0 459.0,320.5 460.0,320.5 461.0,320.2 462.0,320.8 463.0,321.4 464.0,322.3 465.0,321.7 466.0,322.4 467.0,321.8 468.0,322.4 469.0,322.4 470.0,322.4 471.0,322.4 472.0,322.4 473.0,322.4 474.0,322.4 475.0,322.4 476.0,322.4 477.0,322.4 478.0,322.4 479.0,322.4 480.0,322.4 481.0,322.4 482.0,322.4 483.0,322.4 484.0,322.4 485.0,322.4 486.0,322.4 487.0,322.4 488.0,322.4 489.0,322.4 490.0,322.4 491.0,322.4 492.0,322.4 493.0,322.4 494.0,322.4 495.0,322.4 496.0,322.4 497.0,322.4 498.0,322.4 499.0,322.4 500.0,322.4 501.0,322.4 502.0,322.4 503.0,322.4 504.0,322.4 505.0,322.4 506.0,322.4 507.0,322.4 508.0,322.4 509.0,322.4 510.0,322.4 511.0,322.4 512.0,322.4 513.0,322.4 514.0,322.4 515.0,322.4" fill="none" stroke="#000" stroke-width="1.05" stroke-dasharray="1.8 1.2"/><text font-family="Liberation Serif" font-size="10.6" font-weight="bold" fill="#000" x="466.3" y="276.3">SHIP<tspan font-size="7" dy="-4">-/-</tspan></text></svg>
</body></html>
